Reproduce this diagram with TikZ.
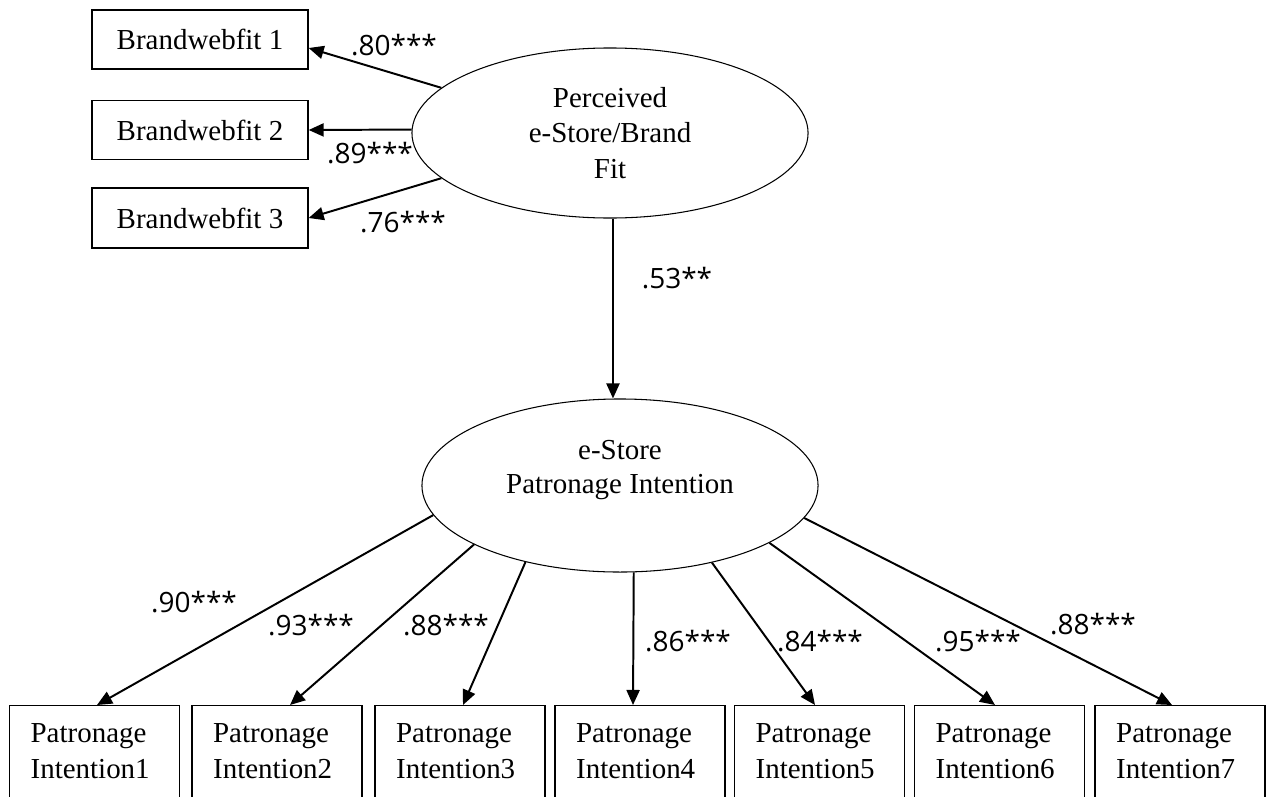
\documentclass[tikz,border=0pt]{standalone}
\usepackage{fontspec}
\setmainfont{Liberation Serif}
\newfontfamily\lblfont{Open Sans}
\usetikzlibrary{arrows.meta,shapes.geometric}
\newdimen\pxu \pxu=0.025cm
\begin{document}
\begin{tikzpicture}[x=0.025cm,y=-0.025cm,
  txt/.style={font=\fontsize{20.6}{25}\selectfont},
  topbox/.style={draw,line width=0.9pt,minimum width=5.4cm,minimum height=1.475cm,inner sep=0,txt},
  latent/.style={draw,ellipse,line width=0.75pt,minimum width=9.9cm,inner sep=0,txt,align=center},
  botbox/.style={draw,line width=0.9pt,minimum width=4.25cm,minimum height=2.875cm,anchor=north,inner sep=0},
  bottext/.style={anchor=north west,inner sep=0,align=left,font=\fontsize{20.6}{25.6}\selectfont},
  link/.style={line width=1.4pt,-{Triangle[length=10.7pt,width=9.3pt]}},
  coef/.style={anchor=base,inner sep=0,font=\lblfont\fontsize{19.9}{24}\selectfont}]
\useasboundingbox (0,0) rectangle (1267,796);
\clip (0,0) rectangle (1267,796);

% indicators of the perceived fit construct
\node[topbox] (bw1) at (200,39.5) {Brandwebfit 1};
\node[topbox] (bw2) at (200,130) {Brandwebfit 2};
\node[topbox,minimum height=1.5cm] (bw3) at (200,218) {Brandwebfit 3};

% latent constructs
\node[latent,minimum height=4.25cm] (fit) at (610,133) {Perceived\\e-Store/Brand\\Fit};
\node[latent,minimum height=4.325cm] (pi) at (620,485.5) {};
\node[align=center,inner sep=0,font=\fontsize{20.6}{24.2}\selectfont] (pitext) at (620,470) {e-Store\\Patronage Intention};

% indicators of patronage intention
\foreach \i/\x in {1/94.5,2/277,3/460,4/640,5/819.5,6/999.5,7/1180}{
  \node[botbox] (p\i) at (\x,705) {};
  \node[bottext] (pt\i) at ([xshift=21.5\pxu,yshift=-18\pxu]p\i.north west) {Patronage\\Intention\i};
}

% loadings of the fit construct
\draw[link] (fit.165.5) -- ([yshift=-8.5\pxu]bw1.east);
\draw[link] (fit.179) -- (bw2.east);
\draw[link] (fit.195) -- (bw3.east);

% structural path
\draw[link] (fit.272) -- (fit.272 |- pi.north);

% loadings of patronage intention
\draw[link] (pi.189.6) -- ([xshift=2.5\pxu]p1.north);
\draw[link] (pi.202) -- ([xshift=13\pxu]p2.north);
\draw[link] (pi.219.7) -- ([xshift=3\pxu]p3.north);
\draw[link] (pi.279.2) -- ([xshift=-7\pxu]p4.north);
\draw[link] (pi.320.3) -- ([xshift=-4.5\pxu]p5.north);
\draw[link] (pi.339.1) -- ([xshift=-4.5\pxu]p6.north);
\draw[link] (pi.350.4) -- ([xshift=-8\pxu]p7.north);

% coefficients
\node[coef] (c1) at (394,55) {.80***};
\node[coef] (c2) at (370,163) {.89***};
\node[coef] (c3) at (403,232) {.76***};
\node[coef] (c4) at (677,288) {.53**};
\node[coef] (c5) at (194,612) {.90***};
\node[coef] (c6) at (311,635) {.93***};
\node[coef] (c7) at (446,635) {.88***};
\node[coef] (c8) at (688,651) {.86***};
\node[coef] (c9) at (820,651) {.84***};
\node[coef] (c10) at (978,651) {.95***};
\node[coef] (c11) at (1093,634) {.88***};
\end{tikzpicture}
\end{document}
